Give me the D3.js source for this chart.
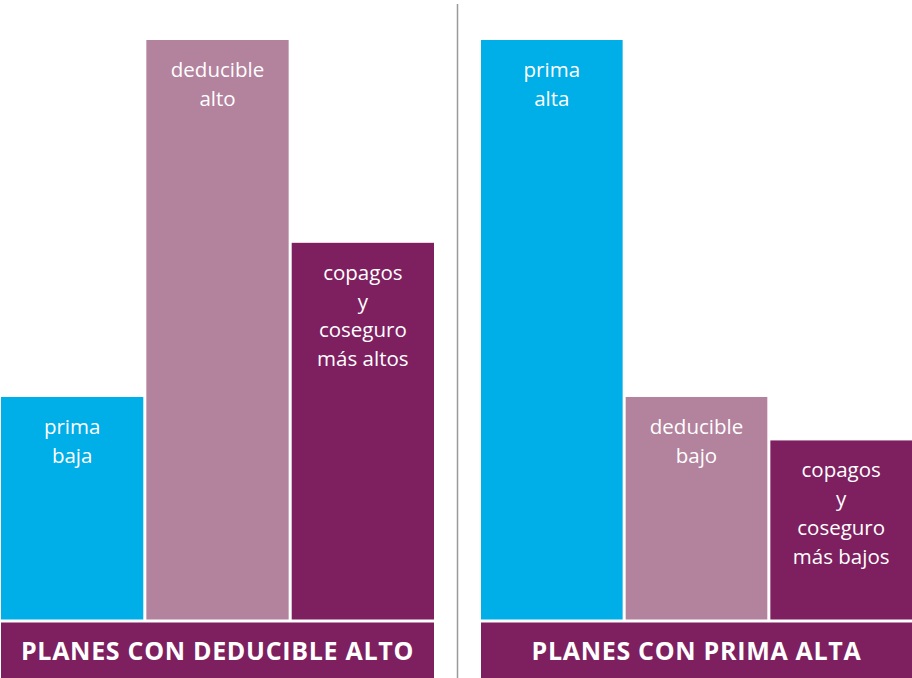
<!DOCTYPE html>
<html>
<head>
<meta charset="utf-8">
<script src="https://cdn.jsdelivr.net/npm/d3@7"></script>
<style>
  html, body { margin: 0; padding: 0; background: #fff; }
  svg { display: block; }
</style>
</head>
<body>
<svg id="chart" width="912" height="678"></svg>
<script>
// Two plan panels, three relative cost bars each
const PLANS = ["PLANES CON DEDUCIBLE ALTO", "PLANES CON PRIMA ALTA"];
const CATEGORIES = ["prima", "deducible", "copagos"];
const VALUES_DEDUCIBLE_ALTO = [38.4, 100, 65];
const VALUES_PRIMA_ALTA = [100, 38.4, 30.9];
const LABELS_DEDUCIBLE_ALTO = [
  ["prima", "baja"],
  ["deducible", "alto"],
  ["copagos", "y", "coseguro", "más altos"]
];
const LABELS_PRIMA_ALTA = [
  ["prima", "alta"],
  ["deducible", "bajo"],
  ["copagos", "y", "coseguro", "más bajos"]
];

const COLOR_CYAN = "#00AEE8";
const COLOR_MAUVE = "#B3829D";
const COLOR_PLUM = "#7E1F60";
const COLOR_DIVIDER = "#9a9a9a";
const FONT = "'Open Sans', 'DejaVu Sans', sans-serif";

const BAR_BOTTOM = 619.5;
const BAR_TOP = 40;
const BAND_TOP = 622.5;
const BAND_BOTTOM = 678;
const LINE_HEIGHT = 28.7;

const svg = d3.select("#chart");

const color = d3.scaleOrdinal().domain(CATEGORIES).range([COLOR_CYAN, COLOR_MAUVE, COLOR_PLUM]);
const y = d3.scaleLinear().domain([0, 100]).range([BAR_BOTTOM, BAR_TOP]);

const panels = [
  { title: PLANS[0], values: VALUES_DEDUCIBLE_ALTO, labels: LABELS_DEDUCIBLE_ALTO, x0: 1, x1: 434 },
  { title: PLANS[1], values: VALUES_PRIMA_ALTA, labels: LABELS_PRIMA_ALTA, x0: 481, x1: 912 }
];

panels.forEach((panel) => {
  const x = d3.scaleBand()
    .domain(CATEGORIES)
    .range([panel.x0, panel.x1])
    .paddingInner(0.021);

  const g = svg.append("g");

  const rows = CATEGORIES.map((c, i) => ({ cat: c, value: panel.values[i], lines: panel.labels[i] }));

  g.selectAll("rect.bar")
    .data(rows)
    .join("rect")
    .attr("class", "bar")
    .attr("x", (d) => x(d.cat))
    .attr("y", (d) => y(d.value))
    .attr("width", x.bandwidth())
    .attr("height", (d) => BAR_BOTTOM - y(d.value))
    .attr("fill", (d) => color(d.cat));

  // labels sit at the top of each bar
  rows.forEach((d) => {
    g.append("text")
      .attr("x", x(d.cat) + x.bandwidth() / 2)
      .attr("y", y(d.value) + 37)
      .attr("text-anchor", "middle")
      .attr("font-family", FONT)
      .attr("font-size", "20.5px")
      .attr("fill", "#fff")
      .selectAll("tspan")
      .data(d.lines)
      .join("tspan")
      .attr("x", x(d.cat) + x.bandwidth() / 2)
      .attr("dy", (l, i) => i === 0 ? 0 : LINE_HEIGHT)
      .text((l) => l);
  });

  // title band under the bars
  g.append("rect")
    .attr("x", panel.x0)
    .attr("y", BAND_TOP)
    .attr("width", panel.x1 - panel.x0)
    .attr("height", BAND_BOTTOM - BAND_TOP)
    .attr("fill", COLOR_PLUM);

  g.append("text")
    .attr("x", (panel.x0 + panel.x1) / 2)
    .attr("y", (BAND_TOP + BAND_BOTTOM) / 2)
    .attr("dy", "0.38em")
    .attr("text-anchor", "middle")
    .attr("font-family", FONT)
    .attr("font-weight", "bold")
    .attr("font-size", "25px")
    .attr("letter-spacing", "0.7px")
    .attr("fill", "#fff")
    .text(panel.title);
});

svg.append("line")
  .attr("x1", 457.5).attr("x2", 457.5)
  .attr("y1", 4).attr("y2", 678)
  .attr("stroke", COLOR_DIVIDER)
  .attr("stroke-width", 1.5);
</script>
</body>
</html>
